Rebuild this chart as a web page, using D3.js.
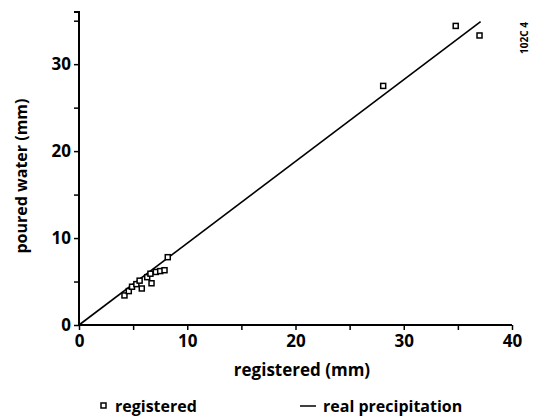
<!DOCTYPE html>
<html>
<head>
<meta charset="utf-8">
<script src="https://cdn.jsdelivr.net/npm/d3@7"></script>
<style>
  body { margin: 0; background: #fff; }
  svg text { font-family: "Open Sans", "DejaVu Sans", sans-serif; font-weight: 700; fill: #000; }
</style>
</head>
<body>
<svg id="chart" width="542" height="418"></svg>
<script>
// values
const registered = [4.2, 4.6, 4.9, 5.3, 5.8, 5.6, 6.3, 6.6, 6.7, 7.1, 7.5, 7.9, 8.2, 28.1, 34.8, 37.0];
const poured     = [3.4, 3.9, 4.4, 4.7, 4.2, 5.1, 5.5, 5.9, 4.8, 6.1, 6.2, 6.3, 7.8, 27.5, 34.4, 33.3];
const realLine = [[0, 0], [37.1, 34.9]];
const xTicks = [0, 5, 10, 15, 20, 25, 30, 35, 40];
const yTicks = [0, 5, 10, 15, 20, 25, 30, 35];
const xLabels = [0, 10, 20, 30, 40];
const yLabels = [0, 10, 20, 30];

const svg = d3.select('#chart');

const x = d3.scaleLinear().domain([0, 40]).range([79, 512]);
const y = d3.scaleLinear().domain([0, 36]).range([325, 12]);

// x axis
const xAxis = d3.axisBottom(x)
    .tickValues(xTicks)
    .tickSize(5)
    .tickFormat(d => xLabels.includes(d) ? d : '');
const gx = svg.append('g')
    .attr('transform', `translate(0,${y(0)})`)
    .call(xAxis);
gx.select('.domain').attr('d', `M${x(0)},0H${x(40)}`);

// y axis
const yAxis = d3.axisLeft(y)
    .tickValues(yTicks)
    .tickSize(5)
    .tickFormat(d => yLabels.includes(d) ? d : '');
const gy = svg.append('g')
    .attr('transform', `translate(${x(0)},0)`)
    .call(yAxis);
gy.select('.domain').attr('d', `M-5,${y(36)}H0V${y(0)}`);

svg.selectAll('.domain').attr('stroke', '#000').attr('stroke-width', 2);
svg.selectAll('.tick line').attr('stroke', '#000').attr('stroke-width', 1.5);
svg.selectAll('.tick text')
    .style('font-size', '17px')
    .style('font-weight', 700);
gx.selectAll('.tick text').attr('dy', '0.8em');
gy.selectAll('.tick text').attr('x', -8);

// real precipitation line
svg.append('path')
    .datum(realLine)
    .attr('fill', 'none')
    .attr('stroke', '#000')
    .attr('stroke-width', 1.6)
    .attr('d', d3.line().x(d => x(d[0])).y(d => y(d[1])));

// registered points
const pts = registered.map((r, i) => [r, poured[i]]);
const sq = 5;
svg.append('g')
    .selectAll('rect')
    .data(pts)
    .enter()
    .append('rect')
    .attr('x', d => x(d[0]) - sq / 2)
    .attr('y', d => y(d[1]) - sq / 2)
    .attr('width', sq)
    .attr('height', sq)
    .attr('fill', '#fff')
    .attr('stroke', '#000')
    .attr('stroke-width', 1.5);

// axis titles
svg.append('text')
    .attr('x', 302)
    .attr('y', 376)
    .attr('text-anchor', 'middle')
    .style('font-size', '17px')
    .text('registered (mm)');

svg.append('text')
    .attr('transform', 'translate(27,176) rotate(-90)')
    .attr('text-anchor', 'middle')
    .style('font-size', '16px')
    .text('poured water (mm)');

// legend
svg.append('rect')
    .attr('x', 101)
    .attr('y', 403)
    .attr('width', 5)
    .attr('height', 5)
    .attr('fill', '#fff')
    .attr('stroke', '#000')
    .attr('stroke-width', 1.5);
svg.append('text')
    .attr('x', 115)
    .attr('y', 412)
    .style('font-size', '16px')
    .text('registered');

svg.append('line')
    .attr('x1', 300)
    .attr('x2', 316)
    .attr('y1', 406)
    .attr('y2', 406)
    .attr('stroke', '#000')
    .attr('stroke-width', 1.5);
svg.append('text')
    .attr('x', 323)
    .attr('y', 412)
    .style('font-size', '16px')
    .text('real precipitation');

// figure code
svg.append('text')
    .attr('transform', 'translate(528,38) rotate(-90)')
    .attr('text-anchor', 'middle')
    .style('font-size', '10px')
    .text('102C 4');
</script>
</body>
</html>
